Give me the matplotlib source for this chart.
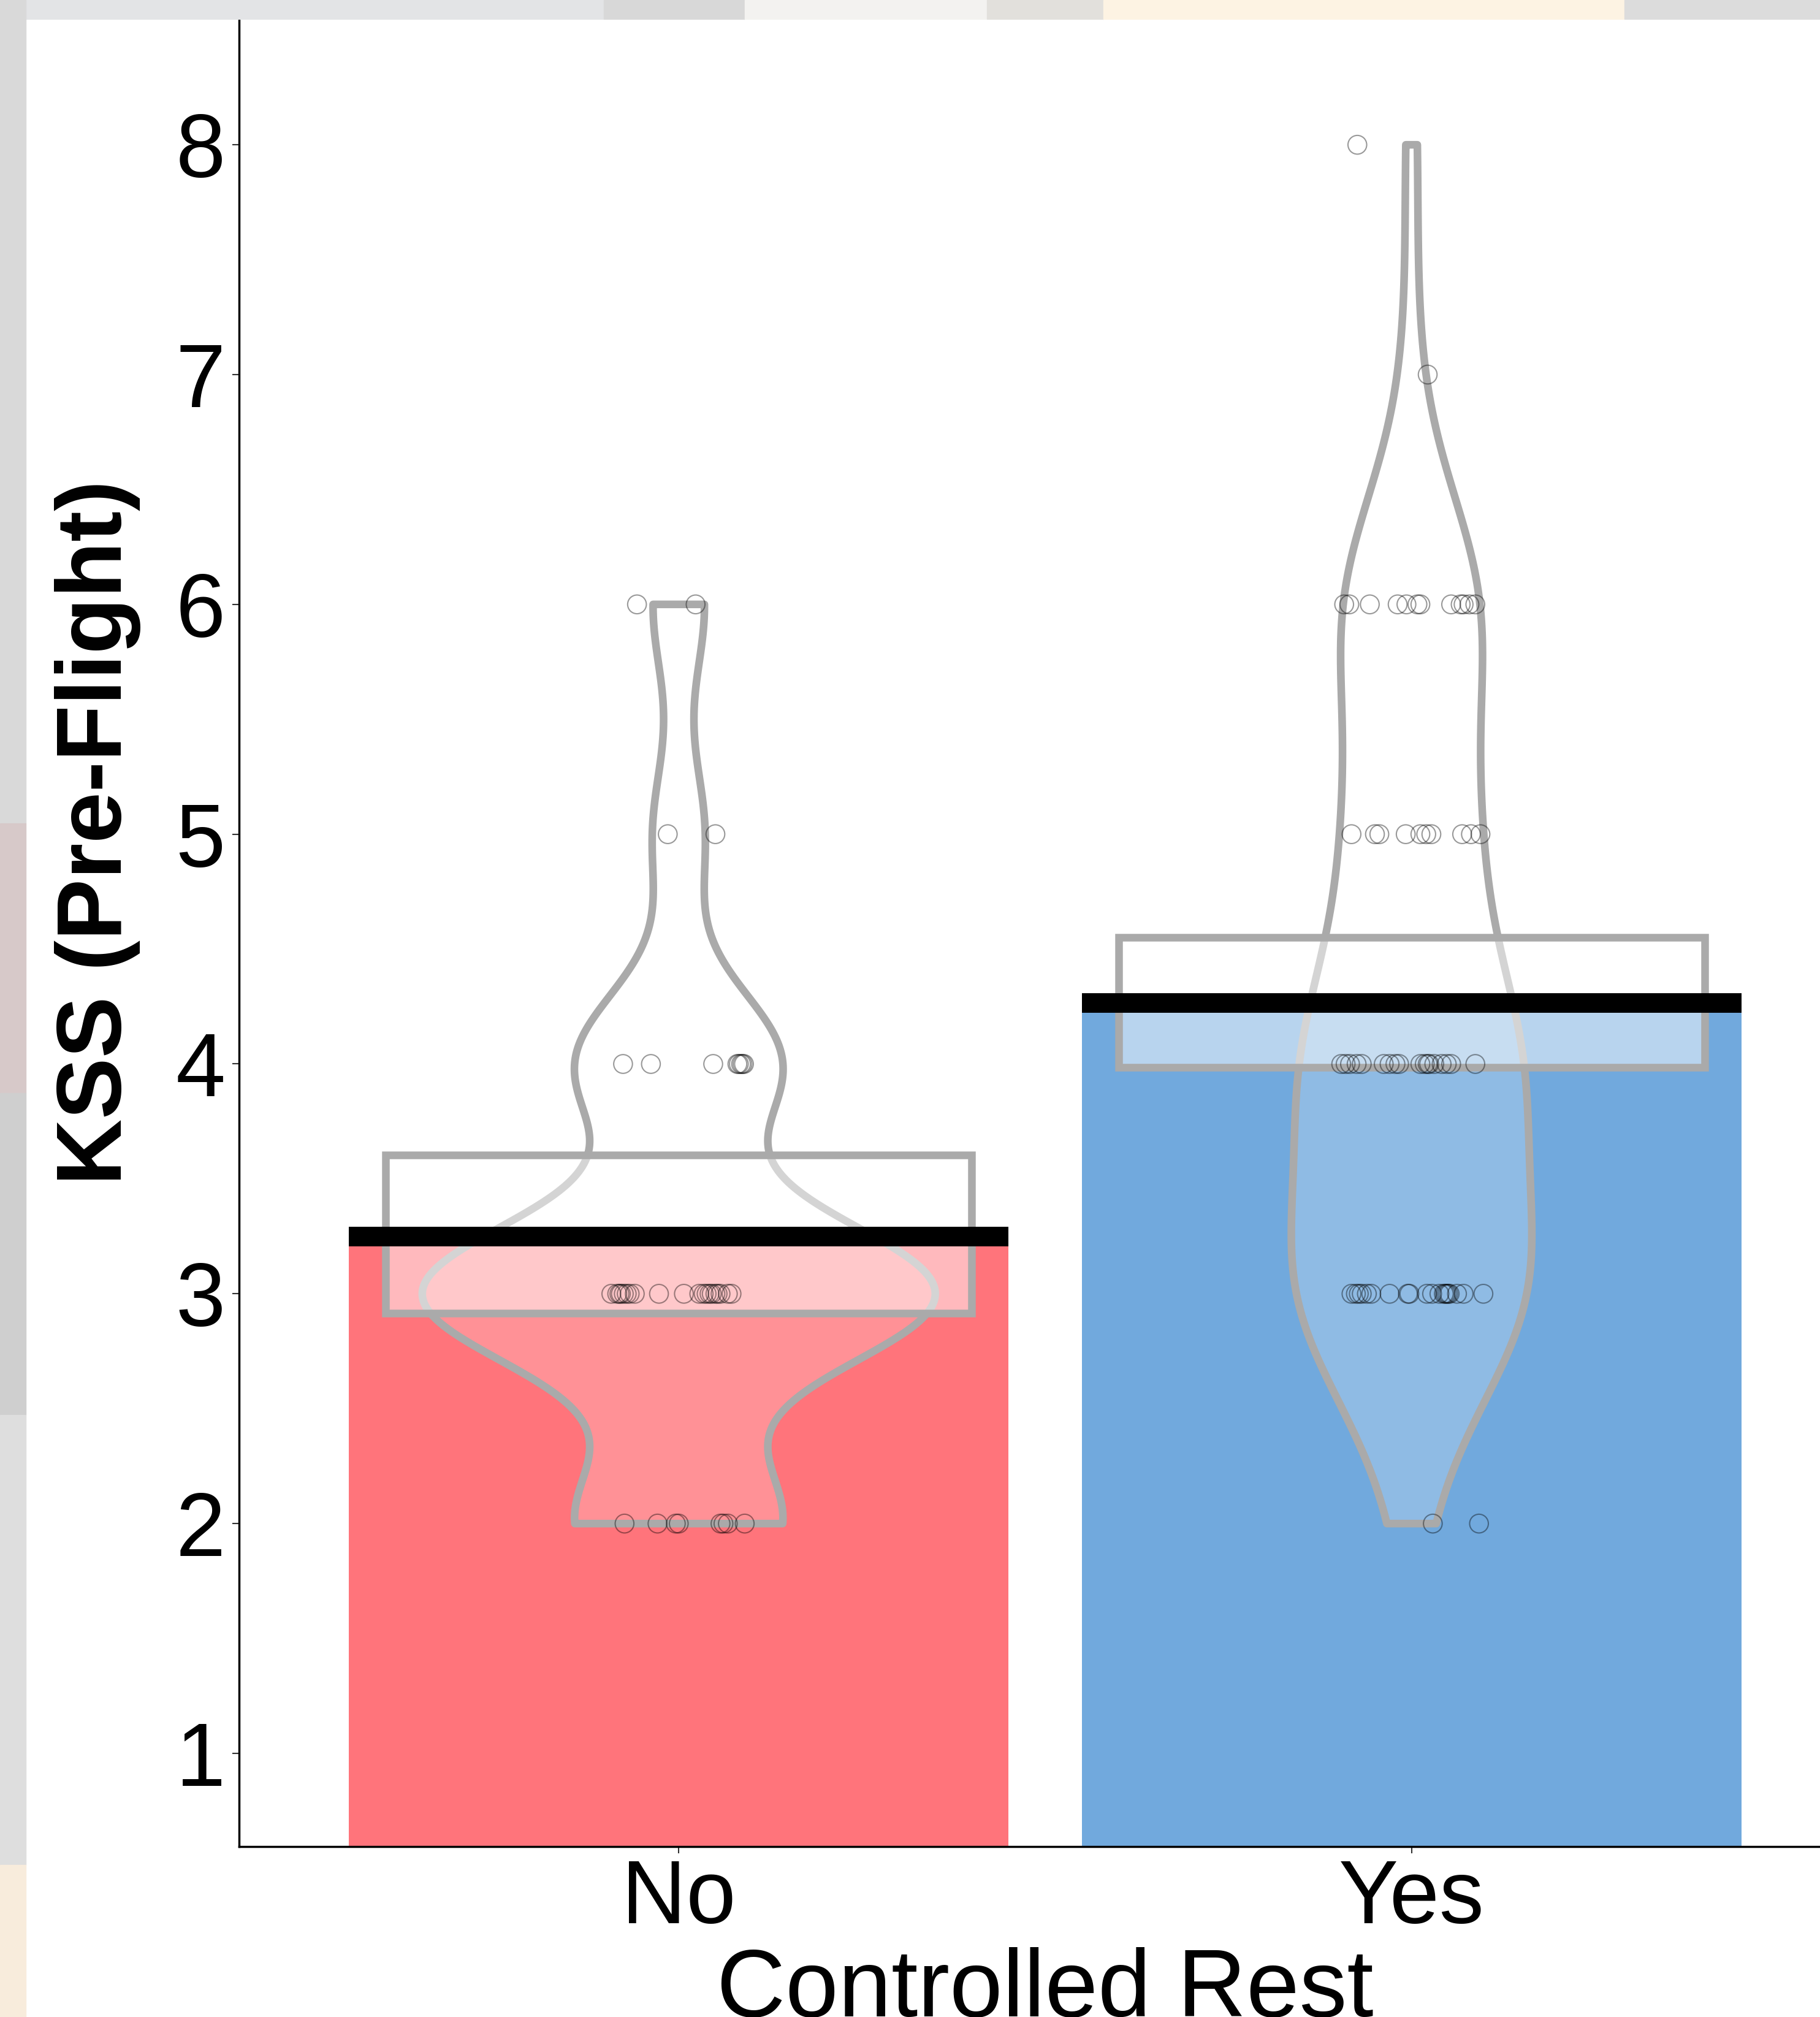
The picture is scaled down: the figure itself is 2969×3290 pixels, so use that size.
import matplotlib
matplotlib.use('Agg')

import matplotlib.pyplot as plt
from matplotlib.patches import Rectangle, Polygon
import numpy as np

plt.rcParams['font.family'] = ['Liberation Sans', 'DejaVu Sans']

W, H = 2969, 3290

groups = ['No', 'Yes']
bar_colors = ['#FF747B', '#71A9DD']

# KSS pre-flight scores (one entry per pilot) and the horizontal jitter seen in the plot
no_kss = [6]*2 + [5]*2 + [4]*8 + [3]*20 + [2]*8
no_jit = [-0.057, 0.023,
          -0.015, 0.050,
          -0.076, -0.038, 0.047, 0.080, 0.082, 0.085, 0.087, 0.089,
          -0.092, -0.084, -0.081, -0.079, -0.075, -0.071, -0.067, -0.060, -0.027, 0.007,
          0.028, 0.034, 0.038, 0.042, 0.045, 0.050, 0.053, 0.057, 0.067, 0.072,
          -0.074, -0.029, -0.004, 0.000, 0.057, 0.061, 0.067, 0.090]

yes_kss = [8] + [7] + [6]*12 + [5]*10 + [4]*18 + [3]*20 + [2]*2
yes_jit = [-0.074,
           0.022,
           -0.092, -0.085, -0.057, -0.019, -0.007, 0.008, 0.012, 0.054, 0.067, 0.071, 0.079, 0.087,
           -0.082, -0.050, -0.044, -0.008, 0.012, 0.020, 0.027, 0.069, 0.081, 0.094,
           -0.096, -0.090, -0.084, -0.075, -0.068, -0.038, -0.030, -0.022, -0.017,
           0.012, 0.018, 0.022, 0.024, 0.031, 0.041, 0.048, 0.054, 0.087,
           -0.082, -0.076, -0.072, -0.068, -0.061, -0.055, -0.030, -0.005, -0.003, 0.021,
           0.028, 0.038, 0.044, 0.046, 0.048, 0.050, 0.052, 0.062, 0.071, 0.098,
           0.029, 0.092]

# highest density intervals
hdi_lo = [2.916, 3.986]
hdi_hi = [3.605, 4.552]

data = [np.array(no_kss, float), np.array(yes_kss, float)]
jitter = [np.array(no_jit), np.array(yes_jit)]
pos = np.array([1, 2])


def kde(x, grid):
  # gaussian kernel density with R's bw.nrd0 bandwidth
  q75, q25 = np.percentile(x, [75, 25])
  bw = 0.9 * min(np.std(x, ddof=1), (q75 - q25) / 1.34) * len(x) ** -0.2
  z = (grid[:, None] - x[None, :]) / bw
  return np.exp(-0.5 * z**2).sum(axis=1) / (len(x) * bw * np.sqrt(2 * np.pi))


fig = plt.figure(figsize=(W / 100, H / 100), dpi=100)
ax = fig.add_axes([390 / W, 1 - 3012 / H, (3020 - 390) / W, 3012 / H])

means = [d.mean() for d in data]
ax.bar(pos, means, width=0.9, color=bar_colors, zorder=1)

grids = [np.linspace(d.min(), d.max(), 600) for d in data]
dens = [kde(d, g) for d, g in zip(data, grids)]
gmax = max(dd.max() for dd in dens)
for c, g, dd in zip(pos, grids, dens):
  half = dd / gmax * 0.35
  xs = np.concatenate([c - half, (c + half)[::-1]])
  ys = np.concatenate([g, g[::-1]])
  ax.add_patch(Polygon(np.column_stack([xs, ys]), closed=True, facecolor=(1, 1, 1, 0.21),
                       edgecolor='#AAAAAA', lw=9, joinstyle='round', zorder=2))

for c, lo, hi in zip(pos, hdi_lo, hdi_hi):
  ax.add_patch(Rectangle((c - 0.4, lo), 0.8, hi - lo, facecolor=(1, 1, 1, 0.5),
                         edgecolor='#AAAAAA', lw=9, zorder=3))

for c, m in zip(pos, means):
  ax.plot([c - 0.45, c + 0.45], [m, m], color='k', lw=23, solid_capstyle='butt', zorder=4)

for c, d, j in zip(pos, data, jitter):
  ax.scatter(c + j, d, s=484, facecolors='none', edgecolors=(0, 0, 0, 0.4),
             linewidths=1.5, zorder=5)

ax.set_xlim(0.4, 2.6)
ax.set_ylim(0.5945, 8.63)
ax.set_xticks(pos)
ax.set_xticklabels(groups)
ax.set_yticks(range(1, 9))
ax.tick_params(axis='both', labelsize=105, length=8, width=1.5, color='#333333')
ax.tick_params(axis='y', pad=8)
ax.tick_params(axis='x', pad=6)
for s in ['top', 'right']:
  ax.spines[s].set_visible(False)
for s in ['left', 'bottom']:
  ax.spines[s].set_linewidth(2.5)

fig.text(160 / W, 1 - 1358 / H, 'KSS (Pre-Flight)', rotation=90, ha='center', va='center',
         fontsize=108, fontweight='bold')
fig.text(1705 / W, 1 - 3289 / H, 'Controlled Rest', ha='center', va='baseline', fontsize=112)

# blurred screenshot frame around the chart
frame = [((0, 1 - 31 / H), 985 / W, 31 / H, '#e3e4e6'),
         ((985 / W, 1 - 31 / H), 230 / W, 31 / H, '#d8d8d8'),
         ((1215 / W, 1 - 31 / H), 395 / W, 31 / H, '#f3f2f0'),
         ((1610 / W, 1 - 31 / H), 190 / W, 31 / H, '#e2e0dc'),
         ((1800 / W, 1 - 31 / H), 850 / W, 31 / H, '#fdf3e3'),
         ((2650 / W, 1 - 31 / H), 319 / W, 31 / H, '#dcdcdc'),
         ((0, 1 - 1343 / H), 42 / W, 1343 / H, '#d9d9d9'),
         ((0, 1 - 1783 / H), 42 / W, 440 / H, '#d7c9c9'),
         ((0, 1 - 2308 / H), 42 / W, 525 / H, '#cfcfcf'),
         ((0, 1 - 3042 / H), 42 / W, 734 / H, '#dedede'),
         ((0, 0), 42 / W, 248 / H, '#f8ecdc')]
for xy, w, h, col in frame:
  fig.patches.append(Rectangle(xy, w, h, transform=fig.transFigure, color=col, zorder=10))

plt.savefig('out.png', dpi=100)
plt.close()
